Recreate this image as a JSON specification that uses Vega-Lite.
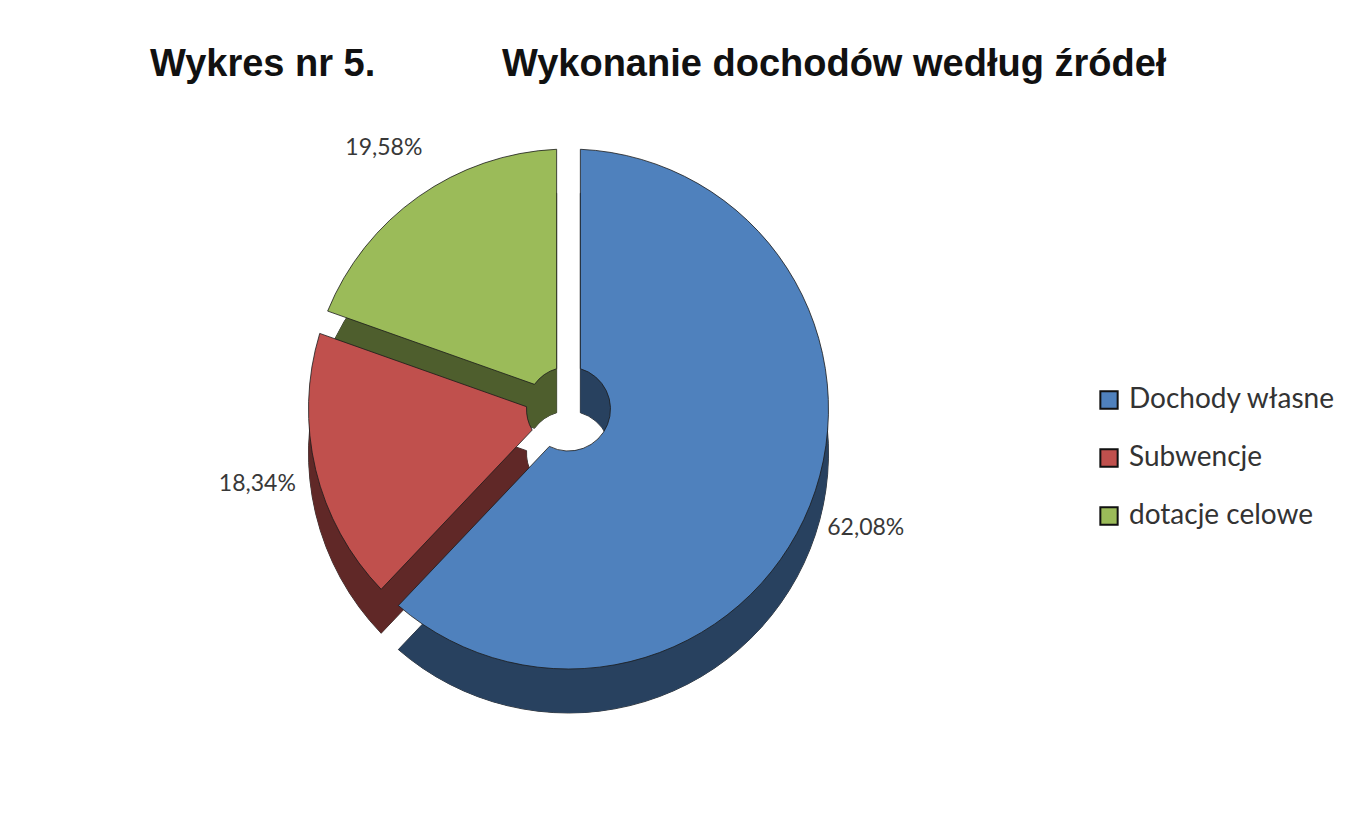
{
  "$schema": "https://vega.github.io/schema/vega-lite/v6.json",
  "width": 1357,
  "height": 820,
  "autosize": {"type": "fit", "contains": "padding"},
  "padding": {"left": 60, "top": 46, "right": 280, "bottom": 106},
  "background": "white",
  "config": {
    "locale": {"number": {"decimal": ",", "thousands": " ", "grouping": [3], "currency": ["", " zł"]}},
    "view": {"stroke": null}
  },
  "title": {
    "text": "Wykres nr 5.\u00a0\u00a0\u00a0\u00a0\u00a0\u00a0\u00a0\u00a0\u00a0\u00a0\u00a0\u00a0Wykonanie dochodów według źródeł",
    "font": "Liberation Sans",
    "fontSize": 38,
    "fontWeight": "bold",
    "color": "#111111",
    "anchor": "start",
    "dx": 90,
    "offset": 20
  },
  "data": {
    "values": [
      {"zrodlo": "Dochody własne", "udzial": 0.6208},
      {"zrodlo": "Subwencje", "udzial": 0.1834},
      {"zrodlo": "dotacje celowe", "udzial": 0.1958}
    ]
  },
  "encoding": {
    "theta": {"field": "udzial", "type": "quantitative", "stack": true},
    "order": {"field": "zrodlo", "type": "nominal", "sort": "ascending"}
  },
  "layer": [
    {
      "mark": {"type": "arc", "outerRadius": 260, "innerRadius": 42, "padAngle": 0.09, "yOffset": 44, "fill": "#000000", "stroke": "#111111", "strokeWidth": 0.8},
      "encoding": {"detail": {"field": "zrodlo", "type": "nominal"}}
    },
    {
      "mark": {"type": "arc", "outerRadius": 260, "innerRadius": 42, "padAngle": 0.09, "yOffset": 44, "fillOpacity": 0.5, "strokeWidth": 0},
      "encoding": {
        "color": {
          "field": "zrodlo", "type": "nominal",
          "scale": {"domain": ["Dochody własne", "Subwencje", "dotacje celowe"], "range": ["#4F81BD", "#C0504D", "#9BBB59"]}
        }
      }
    },
    {
      "mark": {"type": "arc", "outerRadius": 260, "innerRadius": 42, "padAngle": 0.09, "stroke": "#1a1a1a", "strokeWidth": 0.8},
      "encoding": {
        "color": {
          "field": "zrodlo", "type": "nominal",
          "scale": {"domain": ["Dochody własne", "Subwencje", "dotacje celowe"], "range": ["#4F81BD", "#C0504D", "#9BBB59"]},
          "legend": {
            "title": null,
            "orient": "none",
            "legendX": 1035,
            "legendY": 282,
            "symbolType": "square",
            "symbolSize": 300,
            "symbolStrokeColor": "#111111",
            "symbolStrokeWidth": 2,
            "symbolOpacity": 1,
            "labelFont": "Lato",
            "labelFontSize": 28,
            "labelColor": "#333333",
            "labelOffset": 6,
            "rowPadding": 30,
            "labelLimit": 400
          }
        }
      }
    },
    {
      "mark": {"type": "text", "radius": 320, "font": "Lato", "fontSize": 23, "color": "#383838"},
      "encoding": {
        "detail": {"field": "zrodlo", "type": "nominal"},
        "text": {"field": "udzial", "type": "quantitative", "format": ".2%"}
      }
    }
  ]
}
